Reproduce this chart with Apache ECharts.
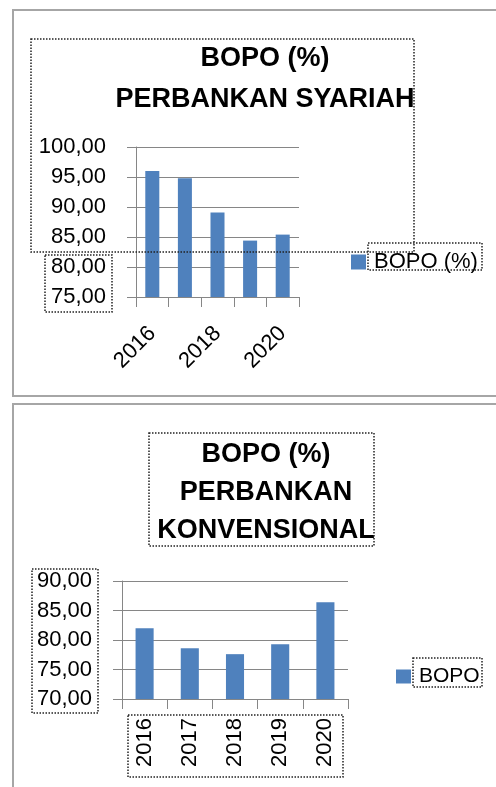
<!DOCTYPE html>
<html>
<head>
<meta charset="utf-8">
<script src="https://cdn.jsdelivr.net/npm/echarts@6/dist/echarts.min.js"></script>
<style>
html,body{margin:0;padding:0;background:#fff;}
#chart{width:496px;height:787px;}
</style>
</head>
<body>
<div id="chart"></div>
<script>
var years = ['2016', '2017', '2018', '2019', '2020'];
var syariah = [96.0, 94.8, 89.1, 84.4, 85.4];
var konvensional = [82.0, 78.6, 77.6, 79.3, 86.4];
var titleSyariah = 'BOPO (%)\nPERBANKAN SYARIAH';
var titleKonv = 'BOPO (%)\nPERBANKAN\nKONVENSIONAL';
var seriesSyariah = 'BOPO (%)';
var seriesKonv = 'BOPO';

var FONT = '"Liberation Sans", Arial, sans-serif';
var GRAY = '#868686';
var BLUE = '#4F81BD';

function fmt(v) { return v.toFixed(2).replace('.', ','); }

function dotted(x, y, w, h) {
  return {
    type: 'rect', z: 100, silent: true,
    shape: { x: x, y: y, width: w, height: h },
    style: { fill: null, stroke: '#222', lineWidth: 1.5, lineDash: [1.5, 1.5] }
  };
}

var chart = echarts.init(document.getElementById('chart'), null, { renderer: 'canvas' });

var yAxisBase = function (min, max, gi) {
  return {
    type: 'value', gridIndex: gi, min: min, max: max, interval: 5,
    axisLine: { show: true, lineStyle: { color: GRAY, width: 1 } },
    axisTick: { show: true, length: 9, lineStyle: { color: GRAY } },
    splitLine: { show: true, lineStyle: { color: GRAY, width: 1 } },
    axisLabel: { formatter: fmt, fontFamily: FONT, fontSize: 22, color: '#000', margin: 30 }
  };
};

chart.setOption({
  backgroundColor: '#fff',
  animation: false,
  title: [
    { text: titleSyariah, left: 260, top: 33, textAlign: 'center',
      textStyle: { fontFamily: FONT, fontSize: 27, fontWeight: 'bold', color: '#000', lineHeight: 41 } },
    { text: titleKonv, left: 261, top: 431, textAlign: 'center',
      textStyle: { fontFamily: FONT, fontSize: 27, fontWeight: 'bold', color: '#000', lineHeight: 38 } }
  ],
  legend: [
    { data: [seriesSyariah], left: 346, top: 246, itemWidth: 15, itemHeight: 15, icon: 'rect',
      textStyle: { fontFamily: FONT, fontSize: 22, color: '#000', padding: [0, 0, 0, 3] } },
    { data: [seriesKonv], left: 391, top: 661, itemWidth: 15, itemHeight: 14, icon: 'rect',
      textStyle: { fontFamily: FONT, fontSize: 21, color: '#000', padding: [0, 0, 0, 3] } }
  ],
  grid: [
    { left: 136, top: 147, width: 163, height: 150, containLabel: false },
    { left: 122, top: 581, width: 226, height: 118, containLabel: false }
  ],
  xAxis: [
    { type: 'category', gridIndex: 0, data: years,
      axisLine: { show: true, lineStyle: { color: GRAY } },
      axisTick: { show: true, interval: 0, length: 10, lineStyle: { color: GRAY } },
      axisLabel: { interval: 1, rotate: 45, fontFamily: FONT, fontSize: 22, color: '#000', margin: 33 } },
    { type: 'category', gridIndex: 1, data: years,
      axisLine: { show: true, lineStyle: { color: GRAY } },
      axisTick: { show: true, interval: 0, length: 10, lineStyle: { color: GRAY } },
      axisLabel: { interval: 0, rotate: 90, fontFamily: FONT, fontSize: 22, color: '#000', margin: 19 } }
  ],
  yAxis: [yAxisBase(75, 100, 0), yAxisBase(70, 90, 1)],
  series: [
    { name: seriesSyariah, type: 'bar', xAxisIndex: 0, yAxisIndex: 0, data: syariah,
      barWidth: '43%', itemStyle: { color: BLUE } },
    { name: seriesKonv, type: 'bar', xAxisIndex: 1, yAxisIndex: 1, data: konvensional,
      barWidth: '40%', itemStyle: { color: BLUE } }
  ],
  graphic: [
    { type: 'rect', z: 0, silent: true, shape: { x: 13, y: 10, width: 500, height: 386 },
      style: { fill: null, stroke: '#a6a6a6', lineWidth: 2 } },
    { type: 'rect', z: 0, silent: true, shape: { x: 13, y: 404, width: 500, height: 400 },
      style: { fill: null, stroke: '#a6a6a6', lineWidth: 2 } },
    dotted(31, 39, 383, 213),
    dotted(368, 243, 114, 27),
    dotted(45, 255, 67, 57),
    dotted(149, 433, 225, 113),
    dotted(32, 569, 66, 144),
    dotted(128, 715, 215, 62),
    dotted(413, 658, 69, 29)
  ]
});
</script>
</body>
</html>
